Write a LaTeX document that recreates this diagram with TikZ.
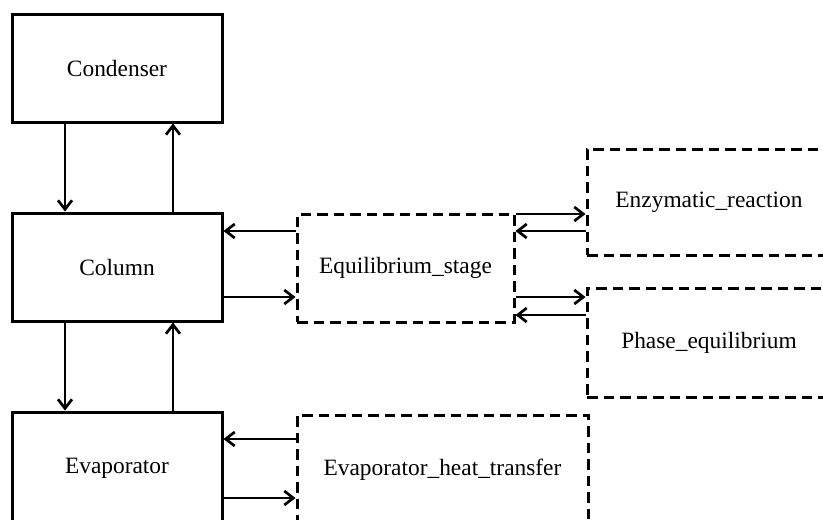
\documentclass[tikz,border=0pt]{standalone}
\usepackage{fontspec}
\setmainfont{Liberation Serif}
\usetikzlibrary{arrows.meta}
\begin{document}
\begin{tikzpicture}[x=1pt,y=-1pt,
  solidbox/.style={draw,line width=3pt,inner sep=0pt,font=\fontsize{23.4}{27}\selectfont},
  dashbox/.style={draw,line width=3pt,dash pattern=on 10.5pt off 6pt,inner sep=0pt,font=\fontsize{23.4}{27}\selectfont},
  flow/.style={line width=2.7pt,-{Straight Barb[length=9pt,width=14pt]}}]
\useasboundingbox (0,0) rectangle (823,520);
\clip (0,0) rectangle (823,520);
\fill[white] (0,0) rectangle (823,520);

% unit blocks
\node[solidbox,minimum width=210pt,minimum height=108pt] (cond) at (117,68) {Condenser};
\node[solidbox,minimum width=210pt,minimum height=108pt] (col) at (117,267) {Column};
\node[solidbox,minimum width=210pt,minimum height=112pt] (evap) at (117,468) {Evaporator};

% sub-models
\node[dashbox,minimum width=217pt,minimum height=108pt] (eq) at (405.5,268) {Equilibrium\_stage};
\node[dashbox,minimum width=244pt,minimum height=106pt] (enz) at (709,202) {Enzymatic\_reaction};
\node[dashbox,minimum width=244pt,minimum height=109pt] (phase) at (709,342.5) {Phase\_equilibrium};
\node[dashbox,minimum width=291pt,minimum height=110pt] (eht) at (442.5,470) {Evaporator\_heat\_transfer};

% vertical streams
\draw[flow] (cond.south -| 65,0) -- (col.north -| 65,0);
\draw[flow] (col.north -| 173,0) -- (cond.south -| 173,0);
\draw[flow] (col.south -| 65,0) -- (evap.north -| 65,0);
\draw[flow] (evap.north -| 173,0) -- (col.south -| 173,0);

% column <-> equilibrium stage
\draw[flow] (eq.west |- 0,231) -- (col.east |- 0,231);
\draw[flow] (col.east |- 0,297) -- (eq.west |- 0,297);

% equilibrium stage <-> its sub-models
\draw[flow] (eq.east |- 0,214) -- (enz.west |- 0,214);
\draw[flow] (enz.west |- 0,231) -- (eq.east |- 0,231);
\draw[flow] (eq.east |- 0,297) -- (phase.west |- 0,297);
\draw[flow] (phase.west |- 0,315) -- (eq.east |- 0,315);

% evaporator <-> heat transfer
\draw[flow] (eht.west |- 0,439) -- (evap.east |- 0,439);
\draw[flow] (evap.east |- 0,498) -- (eht.west |- 0,498);
\end{tikzpicture}
\end{document}
